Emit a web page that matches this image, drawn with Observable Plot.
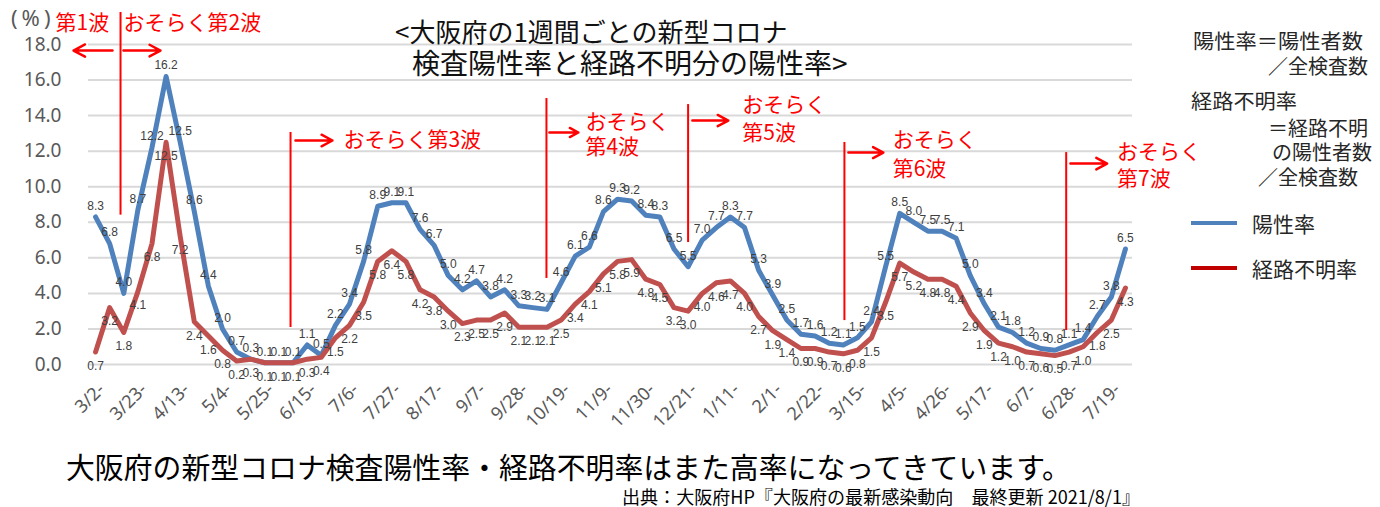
<!DOCTYPE html>
<html><head><meta charset="utf-8">
<script src="https://cdn.jsdelivr.net/npm/d3@7"></script>
<script src="https://cdn.jsdelivr.net/npm/@observablehq/plot@0.6"></script>
<style>body{margin:0;background:#fff}#chart svg{display:block}</style>
</head><body><div id="chart"></div>
<script>
// ---- data ----
const tickLabels = ["3/2-","3/23-","4/13-","5/4-","5/25-","6/15-","7/6-","7/27-","8/17-","9/7-","9/28-","10/19-","11/9-","11/30-","12/21-","1/11-","2/1-","2/22-","3/15-","4/5-","4/26-","5/17-","6/7-","6/28-","7/19-"];
const seriesNames = ["陽性率","経路不明率"];
const positivity = [8.3,6.8,4.0,8.7,12.2,16.2,12.5,8.6,4.4,2.0,0.7,0.3,0.1,0.1,0.1,1.1,0.5,2.2,3.4,5.8,8.9,9.1,9.1,7.6,6.7,5.0,4.2,4.7,3.8,4.2,3.3,3.2,3.1,4.6,6.1,6.6,8.6,9.3,9.2,8.4,8.3,6.5,5.5,7.0,7.7,8.3,7.7,5.3,3.9,2.5,1.7,1.6,1.2,1.1,1.5,2.4,5.5,8.5,8.0,7.5,7.5,7.1,5.0,3.4,2.1,1.8,1.2,0.9,0.8,1.1,1.4,2.7,3.8,6.5];
const unknownRoute = [0.7,3.2,1.8,4.1,6.8,12.5,7.2,2.4,1.6,0.8,0.2,0.3,0.1,0.1,0.1,0.3,0.4,1.5,2.2,3.5,5.8,6.4,5.8,4.2,3.8,3.0,2.3,2.5,2.5,2.9,2.1,2.1,2.1,2.5,3.4,4.1,5.1,5.8,5.9,4.8,4.5,3.2,3.0,4.0,4.6,4.7,4.0,2.7,1.9,1.4,0.9,0.9,0.7,0.6,0.8,1.5,3.5,5.7,5.2,4.8,4.8,4.4,2.9,1.9,1.2,1.0,0.7,0.6,0.5,0.7,1.0,1.8,2.5,4.3];
const yTicks = [0,2,4,6,8,10,12,14,16,18];

// wave annotations (in data units: week index, percent)
const waveLines = [
  {x:1.77, y1:19.8, y2:8.4},
  {x:13.82, y1:13.05, y2:2.08},
  {x:31.96, y1:14.96, y2:4.84},
  {x:42.0, y1:14.62, y2:6.86},
  {x:53.08, y1:12.49, y2:2.47},
  {x:68.8, y1:11.92, y2:1.91}
];
const waveArrows = [
  {x1:1.2, x2:-1.56, y:17.66},
  {x1:1.98, x2:4.6, y:17.66},
  {x1:14.17, x2:16.79, y:12.6},
  {x1:32.17, x2:34.22, y:13.05},
  {x1:42.3, x2:44.85, y:13.72},
  {x1:53.36, x2:55.84, y:11.92},
  {x1:69.1, x2:71.7, y:11.3}
];
const waveTexts = [
  {x:-2.84, y:19.2, t:"第1波"},
  {x:1.98, y:19.2, t:"おそらく第2波"},
  {x:17.57, y:12.6, t:"おそらく第3波"},
  {x:34.72, y:13.63, t:"おそらく"},
  {x:34.72, y:12.22, t:"第4波"},
  {x:45.84, y:14.57, t:"おそらく"},
  {x:45.84, y:12.98, t:"第5波"},
  {x:56.5, y:12.6, t:"おそらく"},
  {x:56.5, y:11.0, t:"第6波"},
  {x:72.4, y:11.94, t:"おそらく"},
  {x:72.4, y:10.44, t:"第7波"}
];

const rows = positivity.map((v,i)=>({i, s:seriesNames[0], v}))
  .concat(unknownRoute.map((v,i)=>({i, s:seriesNames[1], v})));
const blueRows = rows.filter(d=>d.s===seriesNames[0]);
const redRows = rows.filter(d=>d.s===seriesNames[1]);

const JP = "'Noto Sans CJK JP', 'Noto Sans', sans-serif";
const chart = Plot.plot({
  width:1380, height:507,
  marginLeft:88, marginRight:248, marginTop:44, marginBottom:143,
  x:{type:"linear", domain:[-0.5,73.5], axis:null},
  y:{domain:[0,18], axis:null},
  color:{domain:seriesNames, range:["#4F81BD","#C0504D"]},
  style:{fontFamily:JP, background:"#fff", overflow:"visible"},
  marks:[
    Plot.ruleY(yTicks, {stroke:"#D9D9D9", strokeWidth:2}),
    Plot.text(yTicks, {x:-0.5, y:d=>d, text:d=>d.toFixed(1), textAnchor:"end", dx:-27, fontSize:19, fill:"#595959", fontFamily:"'Noto Sans', sans-serif"}),
    Plot.text(tickLabels, {x:(d,i)=>i*3, y:0, text:d=>d, rotate:-45, textAnchor:"end", dx:6, dy:22, fontSize:18, fill:"#595959", fontFamily:"'Noto Sans', sans-serif"}),
    Plot.line(blueRows, {x:"i", y:"v", stroke:"s", strokeWidth:5, strokeLinejoin:"round"}),
    Plot.line(redRows, {x:"i", y:"v", stroke:"s", strokeWidth:5, strokeLinejoin:"round"}),
    Plot.text(blueRows, {x:"i", y:"v", text:d=>d.v.toFixed(1), dy:-11, fontSize:12, fill:"#404040", fontFamily:"'Liberation Sans', sans-serif"}),
    Plot.text(redRows, {x:"i", y:"v", text:d=>d.v.toFixed(1), dy:14, fontSize:12, fill:"#404040", fontFamily:"'Liberation Sans', sans-serif"}),
    Plot.ruleX(waveLines, {x:"x", y1:"y1", y2:"y2", stroke:"#FF0000", strokeWidth:2}),
    Plot.arrow(waveArrows, {x1:"x1", y1:"y", x2:"x2", y2:"y", stroke:"#FF0000", strokeWidth:2.5, headLength:13, headAngle:56}),
    Plot.text(waveTexts, {x:"x", y:"y", text:"t", textAnchor:"start", fill:"#FF0000", fontSize:21})
  ]
});
document.getElementById("chart").appendChild(chart);

// ---- non-data text ----
const svg = d3.select(chart);
function txt(x, y, s, o={}) {
  const t = svg.append("text").attr("x", x).attr("y", y).text(s)
    .attr("dominant-baseline","central")
    .attr("font-family", o.ff || JP)
    .attr("font-size", o.fs || 20)
    .attr("fill", o.fill || "#262626")
    .attr("text-anchor", o.anchor || "start");
  if (o.len) t.attr("textLength", o.len).attr("lengthAdjust","spacingAndGlyphs");
  if (o.ls) t.attr("letter-spacing", o.ls);
  return t;
}
txt(11, 17, "(%)", {fs:22, fill:"#595959", ff:"'Noto Sans', sans-serif", ls:4});
txt(395, 30, "<大阪府の1週間ごとの新型コロナ", {fs:26, fill:"#111"});
txt(412, 62, "検査陽性率と経路不明分の陽性率>", {fs:28, fill:"#111"});

txt(1193, 40, "陽性率＝陽性者数", {len:170});
txt(1368, 65, "／全検査数", {anchor:"end"});
txt(1191, 100, "経路不明率", {len:106});
txt(1368, 127, "＝経路不明", {anchor:"end"});
txt(1372, 151, "の陽性者数", {anchor:"end"});
txt(1358, 176, "／全検査数", {anchor:"end"});

svg.append("line").attr("x1",1191).attr("x2",1237).attr("y1",223).attr("y2",223).attr("stroke","#4F81BD").attr("stroke-width",4);
txt(1252, 223, seriesNames[0], {fs:21});
svg.append("line").attr("x1",1191).attr("x2",1237).attr("y1",268).attr("y2",268).attr("stroke","#C00000").attr("stroke-width",4);
txt(1252, 268, seriesNames[1], {fs:21});

txt(66, 466, "大阪府の新型コロナ検査陽性率・経路不明率はまた高率になってきています。", {fs:29, fill:"#000", len:1005});
txt(622, 496, "出典：大阪府HP『大阪府の最新感染動向　最終更新 2021/8/1』", {fs:18, fill:"#000", len:518});
</script></body></html>
